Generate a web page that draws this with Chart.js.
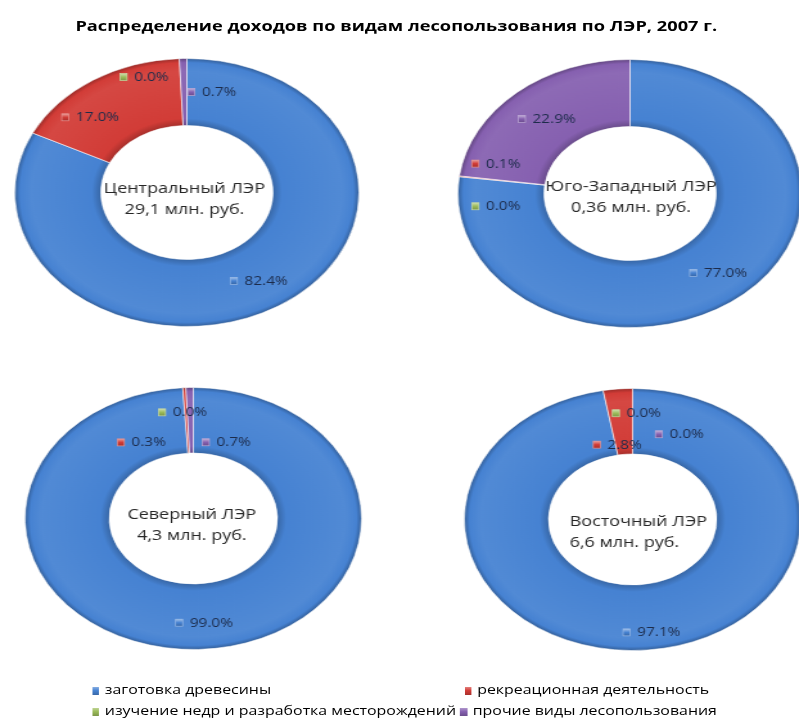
<!DOCTYPE html>
<html>
<head>
<meta charset="utf-8">
<script src="https://cdn.jsdelivr.net/npm/chart.js@4.4.0/dist/chart.umd.min.js"></script>
<style>
    html, body { margin: 0; padding: 0; background: #fff; }
    body { width: 799px; height: 722px; overflow: hidden; position: relative; }
    /* исходная картинка растянута по горизонтали, поэтому рисуем в узком слое и растягиваем его */
    #page { position: absolute; left: 0; top: 0; width: 622px; height: 722px;
            transform: scaleX(1.2845); transform-origin: 0 0; font-family: 'Open Sans', sans-serif; }
    .titulo { position: absolute; left: 0; top: 16px; width: 617px; text-align: center;
              font-weight: bold; font-size: 14.2px; line-height: 19px; color: #000; white-space: nowrap; }
    .donut { position: absolute; }
    .legenda { position: absolute; font-size: 12.4px; line-height: 18px; color: #000; white-space: nowrap; }
    .legenda i { display: inline-block; width: 5.5px; height: 8px; margin-right: 4.5px; vertical-align: -0.5px; }
</style>
</head>
<body>
<div id="page">
    <div class="titulo">Распределение доходов по видам лесопользования по ЛЭР, 2007 г.</div>
    <canvas id="donut-0" class="donut"></canvas>
    <canvas id="donut-1" class="donut"></canvas>
    <canvas id="donut-2" class="donut"></canvas>
    <canvas id="donut-3" class="donut"></canvas>
</div>
<script>
const categories = ['заготовка древесины', 'рекреационная деятельность', 'изучение недр и разработка месторождений', 'прочие виды лесопользования'];
const regions = ['Центральный ЛЭР', 'Юго-Западный ЛЭР', 'Северный ЛЭР', 'Восточный ЛЭР'];
const totals = ['29,1 млн. руб.', '0,36 млн. руб.', '4,3 млн. руб.', '6,6 млн. руб.'];
const centralValues = [82.4, 17.0, 0.0, 0.7];
const southWestValues = [77.0, 0.1, 0.0, 22.9];
const northValues = [99.0, 0.3, 0.0, 0.7];
const eastValues = [97.1, 2.8, 0.0, 0.0];
const colors = ['#4682d2', '#d23c37', '#9bbb59', '#8660b0'];

const SX = 1.2845; // растяжение по горизонтали

// положение колец (в пикселях картинки) и сдвиги подписей
const layout = [
    { cx: 187, cy: 192, r: 134, text: [-2.5, 7], align: 'center', nudge: [[4, 3], [-26, 9], [-37, -15], [28, 0]] },
    { cx: 630, cy: 193, r: 134, text: [1, 4], align: 'center', nudge: [[3, 4], [-6, -17], [-6, 26], [2, 1]] },
    { cx: 193, cy: 518, r: 131, text: [-1.5, 7], align: 'center', nudge: [[7, 6], [-45, 22], [-5, -8], [36, 22]] },
    { cx: 633, cy: 519, r: 131, text: [-63, 13.5], align: 'left', nudge: [[8, 15], [-4, 23], [4, -8], [47, 13]] }
];
const series = [centralValues, southWestValues, northValues, eastValues];

function shade(hex, f) {
    const n = parseInt(hex.slice(1), 16);
    let r = n >> 16, g = (n >> 8) & 255, b = n & 255;
    const t = f < 0 ? 0 : 255, p = Math.abs(f);
    r = Math.round((t - r) * p + r); g = Math.round((t - g) * p + g); b = Math.round((t - b) * p + b);
    return 'rgb(' + r + ',' + g + ',' + b + ')';
}

function ringFill(c) {
    const chart = c.chart;
    const a = chart.chartArea;
    const base = colors[c.dataIndex];
    if (!a) return base;
    const x = (a.left + a.right) / 2, y = (a.top + a.bottom) / 2;
    const R = Math.min(a.right - a.left, a.bottom - a.top) / 2;
    const g = chart.ctx.createRadialGradient(x, y, R * 0.5, x, y, R);
    g.addColorStop(0, shade(base, -0.2));
    g.addColorStop(0.1, base);
    g.addColorStop(0.8, shade(base, 0.06));
    g.addColorStop(0.93, base);
    g.addColorStop(1, shade(base, -0.3));
    return g;
}

const sliceLabels = {
    id: 'sliceLabels',
    afterDatasetsDraw(chart, args, opts) {
        const ctx = chart.ctx;
        const meta = chart.getDatasetMeta(0);
        const values = chart.data.datasets[0].data;
        ctx.save();
        ctx.font = '12px "Open Sans"';
        ctx.textBaseline = 'middle';
        ctx.textAlign = 'left';
        meta.data.forEach((arc, i) => {
            const p = arc.getProps(['x', 'y', 'startAngle', 'endAngle', 'innerRadius', 'outerRadius'], true);
            const mid = (p.startAngle + p.endAngle) / 2;
            const r = (p.innerRadius + p.outerRadius) / 2;
            const n = opts.nudge[i];
            const px = p.x + Math.cos(mid) * r + n[0] / SX;
            const py = p.y + Math.sin(mid) * r + n[1];
            const txt = values[i].toFixed(1) + '%';
            const tw = ctx.measureText(txt).width;
            const x0 = px - (11 + tw) / 2;
            // маленький квадратик-маркер
            const g = ctx.createLinearGradient(0, py - 3.5, 0, py + 3.5);
            g.addColorStop(0, shade(colors[i], 0.5));
            g.addColorStop(0.5, colors[i]);
            g.addColorStop(1, shade(colors[i], -0.2));
            ctx.fillStyle = g;
            ctx.fillRect(x0, py - 3.5, 5.5, 7);
            ctx.strokeStyle = shade(colors[i], 0.45);
            ctx.lineWidth = 0.7;
            ctx.strokeRect(x0, py - 3.5, 5.5, 7);
            ctx.fillStyle = '#1c2b4a';
            ctx.fillText(txt, x0 + 11, py + 0.5);
        });

        // подпись в центре кольца
        const c = meta.data[0];
        ctx.font = '14px "Open Sans"';
        ctx.fillStyle = '#262626';
        ctx.textAlign = opts.align;
        const tx = c.x + opts.text[0] / SX;
        const ty = c.y + opts.text[1];
        ctx.fillText(opts.lines[0], tx, ty - 10.5);
        ctx.fillText(opts.lines[1], tx, ty + 10.5);
        ctx.restore();
    }
};

series.forEach((values, k) => {
    const L = layout[k];
    const size = 2 * L.r + 1;
    const canvas = document.getElementById('donut-' + k);
    canvas.width = size;
    canvas.height = size;
    canvas.style.left = (L.cx / SX - size / 2) + 'px';
    canvas.style.top = (L.cy - size / 2) + 'px';

    new Chart(canvas.getContext('2d'), {
        type: 'doughnut',
        data: {
            labels: categories,
            datasets: [{
                data: values,
                backgroundColor: ringFill,
                borderColor: 'rgba(255,255,255,0.55)',
                borderWidth: 1
            }]
        },
        options: {
            responsive: false,
            animation: false,
            cutout: '50%',
            layout: { padding: 0 },
            plugins: {
                legend: { display: false },
                tooltip: { enabled: false },
                sliceLabels: { nudge: L.nudge, text: L.text, align: L.align, lines: [regions[k], totals[k]] }
            }
        },
        plugins: [sliceLabels]
    });
});

// легенда в две колонки, как в Excel
const page = document.getElementById('page');
const legendPos = [[71.6, 681], [361.5, 681], [71.6, 702], [358, 702]];
categories.forEach((name, i) => {
    const item = document.createElement('div');
    item.className = 'legenda';
    item.style.left = legendPos[i][0] + 'px';
    item.style.top = legendPos[i][1] + 'px';
    const mark = document.createElement('i');
    mark.style.background = 'linear-gradient(' + shade(colors[i], 0.35) + ',' + colors[i] + ' 45%,' + shade(colors[i], -0.2) + ')';
    item.appendChild(mark);
    item.appendChild(document.createTextNode(name));
    page.appendChild(item);
});
</script>
</body>
</html>
